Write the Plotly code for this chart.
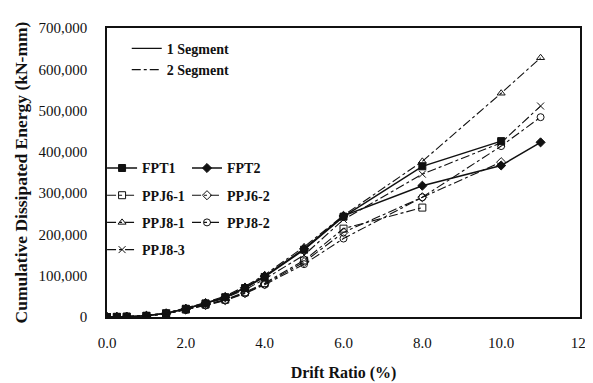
import plotly.graph_objects as go

# ---- data ----
x_fpt1 = [0, 0.25, 0.5, 1.0, 1.5, 2.0, 2.5, 3.0, 3.5, 4.0, 5.0, 6.0, 8.0, 10.0]
y_fpt1 = [0, 300, 800, 3000, 9000, 20000, 33000, 48000, 70000, 97000, 163000, 243000, 365000, 426000]

x_fpt2 = [0, 0.25, 0.5, 1.0, 1.5, 2.0, 2.5, 3.0, 3.5, 4.0, 5.0, 6.0, 8.0, 10.0, 11.0]
y_fpt2 = [0, 300, 800, 3000, 9000, 20000, 34000, 48000, 71000, 99000, 165000, 245000, 318000, 367000, 423000]

x_ppj61 = [0, 0.25, 0.5, 1.0, 1.5, 2.0, 2.5, 3.0, 3.5, 4.0, 5.0, 6.0, 8.0]
y_ppj61 = [0, 300, 700, 2500, 8000, 18000, 30000, 42000, 60000, 82000, 137000, 214000, 265000]

x_ppj62 = [0, 0.25, 0.5, 1.0, 1.5, 2.0, 2.5, 3.0, 3.5, 4.0, 5.0, 6.0, 8.0, 10.0]
y_ppj62 = [0, 300, 700, 2500, 8000, 18000, 29000, 41000, 58000, 80000, 133000, 205000, 290000, 375000]

x_ppj81 = [0, 0.25, 0.5, 1.0, 1.5, 2.0, 2.5, 3.0, 3.5, 4.0, 5.0, 6.0, 8.0, 10.0, 11.0]
y_ppj81 = [0, 300, 900, 3500, 10000, 22000, 35000, 51000, 74000, 102000, 170000, 246000, 377000, 542000, 628000]

x_ppj82 = [0, 0.25, 0.5, 1.0, 1.5, 2.0, 2.5, 3.0, 3.5, 4.0, 5.0, 6.0, 8.0, 10.0, 11.0]
y_ppj82 = [0, 300, 700, 2500, 7500, 17000, 28000, 40000, 57000, 78000, 128000, 190000, 290000, 414000, 484000]

x_ppj83 = [0, 0.25, 0.5, 1.0, 1.5, 2.0, 2.5, 3.0, 3.5, 4.0, 5.0, 6.0, 8.0, 10.0, 11.0]
y_ppj83 = [0, 300, 800, 3000, 9000, 20000, 32000, 46000, 66000, 92000, 150000, 236000, 346000, 422000, 511000]

x_ticks = [0, 2, 4, 6, 8, 10, 12]
x_ticktext = ["0.0", "2.0", "4.0", "6.0", "8.0", "10.0", "12."]
y_ticks = [0, 100000, 200000, 300000, 400000, 500000, 600000, 700000]

FONT = "Liberation Serif"
BLACK = "#111111"

fig = go.Figure()

# segment-type legend entries
fig.add_trace(go.Scatter(x=[None], y=[None], mode="lines", name="1 Segment",
                         line=dict(color=BLACK, width=1.3), legend="legend"))
fig.add_trace(go.Scatter(x=[None], y=[None], mode="lines", name="2 Segment",
                         line=dict(color=BLACK, width=1.1, dash="dashdot"), legend="legend"))

series = [
    ("FPT1", x_fpt1, y_fpt1, "solid", "square", 7, "legend2"),
    ("PPJ6-1", x_ppj61, y_ppj61, "dashdot", "square-open", 7, "legend2"),
    ("PPJ8-1", x_ppj81, y_ppj81, "dashdot", "triangle-up-open", 7, "legend2"),
    ("PPJ8-3", x_ppj83, y_ppj83, "dashdot", "x-thin-open", 7, "legend2"),
    ("FPT2", x_fpt2, y_fpt2, "solid", "diamond", 7, "legend3"),
    ("PPJ6-2", x_ppj62, y_ppj62, "dashdot", "diamond-open", 7, "legend3"),
    ("PPJ8-2", x_ppj82, y_ppj82, "dashdot", "circle-open", 7, "legend3"),
]
for name, xs, ys, dash, sym, size, leg in series:
    solid = dash == "solid"
    fig.add_trace(go.Scatter(
        x=xs, y=ys, mode="lines+markers", name=name, legend=leg, legendgroup=name,
        line=dict(color=BLACK, width=1.5 if solid else 1.1, dash=dash),
        marker=dict(symbol=sym, size=size, color=BLACK,
                    line=dict(color=BLACK, width=1.0)),
    ))

W, H = 593, 383
L, R, T, B = 99, 15, 15, 66
pw, ph = W - L - R, H - T - B

def px(xp):
    return (xp - L) / pw

def py(yp):
    return (H - B - yp) / ph

leg_common = dict(bgcolor="rgba(0,0,0,0)", borderwidth=0, xanchor="left", yanchor="top",
                  font=dict(family=FONT, size=14, color=BLACK, weight="bold"),
                  itemclick=False, itemdoubleclick=False)

fig.update_layout(
    width=W, height=H,
    margin=dict(l=L, r=R, t=T, b=B),
    paper_bgcolor="white", plot_bgcolor="white",
    font=dict(family=FONT, color=BLACK),
    legend=dict(x=px(119), y=py(20), tracegroupgap=0, **leg_common),
    legend2=dict(x=px(94), y=py(145), tracegroupgap=6, **leg_common),
    legend3=dict(x=px(180), y=py(145), tracegroupgap=6, **leg_common),
    xaxis=dict(range=[0, 12], tickvals=x_ticks, ticktext=x_ticktext,
               showgrid=False, zeroline=False, showline=True, linecolor=BLACK,
               linewidth=1.5, mirror=True, ticks="", ticklabelstandoff=11,
               tickfont=dict(family=FONT, size=15, color=BLACK),
               title=dict(text="Drift Ratio (%)", standoff=17,
                          font=dict(family=FONT, size=16, color=BLACK, weight="bold"))),
    yaxis=dict(range=[0, 700000], tickvals=y_ticks, tickformat=",d",
               showgrid=False, zeroline=False, showline=True, linecolor=BLACK,
               linewidth=1.5, mirror=True, ticks="", ticklabelstandoff=15,
               tickfont=dict(family=FONT, size=15, color=BLACK),
               title=dict(text="Cumulative Dissipated Energy (kN-mm)", standoff=6,
                          font=dict(family=FONT, size=17.5, color=BLACK, weight="bold"))),
)

fig.write_html("out.html")
